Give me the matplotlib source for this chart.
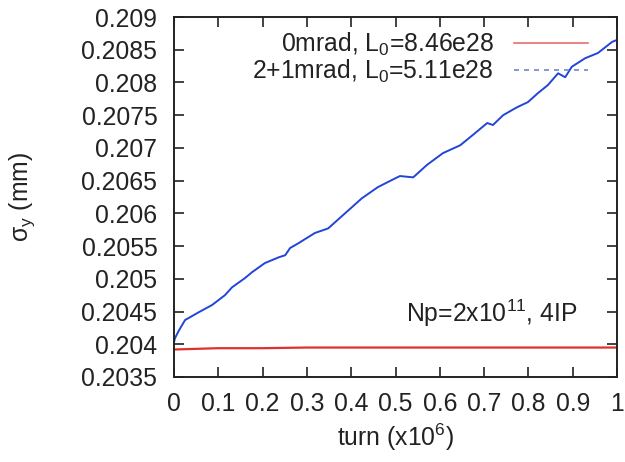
import matplotlib
matplotlib.use("Agg")
import matplotlib.pyplot as plt
from matplotlib.lines import Line2D

plt.rcParams['font.family'] = ['Liberation Sans', 'DejaVu Sans']
plt.rcParams['mathtext.fontset'] = 'custom'
plt.rcParams['mathtext.rm'] = 'Liberation Sans'
plt.rcParams['mathtext.it'] = 'Liberation Sans:italic'

# Data (turn in units of 1e6, sigma_y in mm)
turn_blue = [0.0, 0.002, 0.011, 0.025, 0.056, 0.086, 0.115, 0.131, 0.160, 0.176,
             0.205, 0.237, 0.251, 0.262, 0.280, 0.318, 0.348, 0.386, 0.424, 0.460,
             0.492, 0.510, 0.540, 0.571, 0.607, 0.646, 0.675, 0.707, 0.720, 0.743,
             0.774, 0.799, 0.822, 0.844, 0.867, 0.883, 0.898, 0.928, 0.957, 0.989, 1.0]
sigma_blue = [0.20403, 0.20409, 0.20421, 0.20437, 0.20449, 0.20460, 0.20475, 0.20487, 0.20501, 0.20510,
              0.20524, 0.20533, 0.20536, 0.20547, 0.20554, 0.20570, 0.20577, 0.20600, 0.20623, 0.20640,
              0.20651, 0.20657, 0.20655, 0.20674, 0.20692, 0.20704, 0.20720, 0.20738, 0.20735, 0.20750,
              0.20762, 0.20770, 0.20784, 0.20796, 0.20814, 0.20808, 0.20824, 0.20837, 0.20845, 0.20862, 0.20865]

turn_red = [0.0, 0.05, 0.1, 0.2, 0.3, 0.5, 0.7, 1.0]
sigma_red = [0.20392, 0.20393, 0.20394, 0.20394, 0.20395, 0.20395, 0.20395, 0.20395]

label_red = "0mrad, L$_0$=8.46e28"
label_blue = "2+1mrad, L$_0$=5.11e28"

xticks = [0, 0.1, 0.2, 0.3, 0.4, 0.5, 0.6, 0.7, 0.8, 0.9, 1.0]
xticklabels = ["0", "0.1", "0.2", "0.3", "0.4", "0.5", "0.6", "0.7", "0.8", "0.9", "1"]
yticks = [0.2035, 0.204, 0.2045, 0.205, 0.2055, 0.206, 0.2065, 0.207, 0.2075, 0.208, 0.2085, 0.209]
yticklabels = ["0.2035", "0.204", "0.2045", "0.205", "0.2055", "0.206", "0.2065",
               "0.207", "0.2075", "0.208", "0.2085", "0.209"]

red = '#e0302c'
blue = '#2244d8'
fs = 17.8

fig = plt.figure(figsize=(6.25, 4.62), dpi=100)
ax = fig.add_axes([0.2784, 0.184, 0.7088, 0.7792])

ax.plot(turn_red, sigma_red, color=red, lw=1.6)
ax.plot(turn_blue, sigma_blue, color=blue, lw=1.4)

ax.set_xlim(0, 1)
ax.set_ylim(0.2035, 0.209)
ax.set_xticks(xticks)
ax.set_xticklabels(xticklabels)
ax.set_yticks(yticks)
ax.set_yticklabels(yticklabels)
ax.tick_params(direction='in', length=7, width=1.2, top=True, right=True,
               labelsize=fs, colors='#222222')
ax.tick_params(axis='x', pad=11)
ax.tick_params(axis='y', pad=12)
for s in ax.spines.values():
    s.set_linewidth(1.4)
    s.set_color('#222222')

ax.set_xlabel("turn (x10$^6$)", fontsize=fs, labelpad=4, color='#222222')
ax.set_ylabel("σ$_\\mathrm{y}$ (mm)", fontsize=fs, labelpad=32, color='#222222')

handles = [Line2D([], [], color=red, lw=1.2, alpha=0.7),
           Line2D([], [], color='#7088c8', lw=1.2, ls=(0, (3, 3)))]
leg = ax.legend(handles, [label_red, label_blue], loc='upper right', frameon=False,
                markerfirst=False, fontsize=fs, handlelength=3.0, handletextpad=0.8,
                labelspacing=0.0, borderaxespad=0.0, borderpad=0.2,
                bbox_to_anchor=(0.945, 0.975))
for t in leg.get_texts():
    t.set_color('#222222')

ax.text(0.91, 0.178, "Np=2x10$^{11}$, 4IP", transform=ax.transAxes,
        ha='right', va='center', fontsize=fs, color='#222222')

fig.savefig("out.png", dpi=100)
